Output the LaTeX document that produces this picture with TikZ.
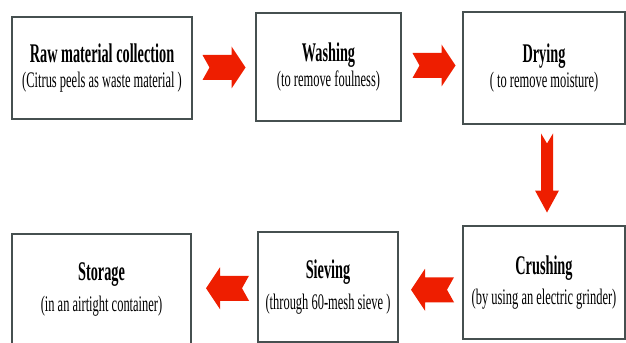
\documentclass[tikz,border=0pt]{standalone}
\usepackage{fontspec}
\newfontfamily\condfont[FakeStretch=0.56]{Liberation Serif}
\newfontfamily\condbold[FakeStretch=0.53]{Liberation Serif Bold}
\usepackage{xcolor}
\usepackage{tikz}
\usetikzlibrary{calc}
\definecolor{arrowred}{RGB}{238,30,0}
\definecolor{boxline}{RGB}{70,80,80}
\newcommand{\steptitle}[1]{{\condbold\fontsize{23}{22}\selectfont #1}}
\tikzset{
    stepbox/.style={
        rectangle,
        draw=boxline,
        line width=0.9pt,
        fill=white,
        align=center,
        inner sep=0pt,
        font=\condfont\fontsize{19}{22}\selectfont
    },
    harrow/.pic={
        \fill[arrowred] (-21.5,-12.5) -- (7.5,-12.5) -- (7.5,-21) -- (21.5,0)
            -- (7.5,21) -- (7.5,12.5) -- (-21.5,12.5) -- (-14.5,0) -- cycle;
    },
    varrow/.pic={
        \fill[arrowred] (-6,-39.5) -- (-6,17.5) -- (-12,17.5) -- (0,39.5)
            -- (12,17.5) -- (6,17.5) -- (6,-39.5) -- (0,-29.5) -- cycle;
    }
}
\begin{document}
\begin{tikzpicture}[x=0.03cm, y=-0.03cm]
\useasboundingbox (0,0) rectangle (626,343);

% Top row
\node[stepbox, minimum width=5.4cm, minimum height=3.06cm] (raw) at (102,68)
    {\steptitle{Raw material collection}\\(Citrus peels as waste material )};
\node[stepbox, minimum width=4.35cm, minimum height=3.24cm] (wash) at (328.5,67)
    {\steptitle{Washing}\\(to remove foulness)};
\node[stepbox, minimum width=4.86cm, minimum height=3.36cm] (dry) at (544,68)
    {\steptitle{Drying}\\( to remove moisture)};

% Bottom row
\node[stepbox, minimum width=4.86cm, minimum height=3.39cm] (crush) at (544,282.5)
    {\steptitle{Crushing}\\[4pt](by using an electric grinder)};
\node[stepbox, minimum width=4.2cm, minimum height=3.3cm] (sieve) at (328,287)
    {\steptitle{Sieving}\\[4pt](through 60-mesh sieve )};
\node[stepbox, minimum width=5.37cm, minimum height=3.33cm] (store) at (101.5,289.5)
    {\steptitle{Storage}\\[4pt](in an airtight container)};

% Arrows
\pic at ($(raw.east)!0.5!(wash.west)$) {harrow};
\pic at ($(wash.east)!0.5!(dry.west)+(2,-2)$) {harrow};
\pic at ($(dry.south)!0.5!(crush.north)+(3,-2)$) {varrow};
\pic[rotate=180] at ($(sieve.east)!0.5!(crush.west)+(2,5)$) {harrow};
\pic[rotate=180] at ($(store.east)!0.5!(sieve.west)+(3,0)$) {harrow};

\end{tikzpicture}
\end{document}
